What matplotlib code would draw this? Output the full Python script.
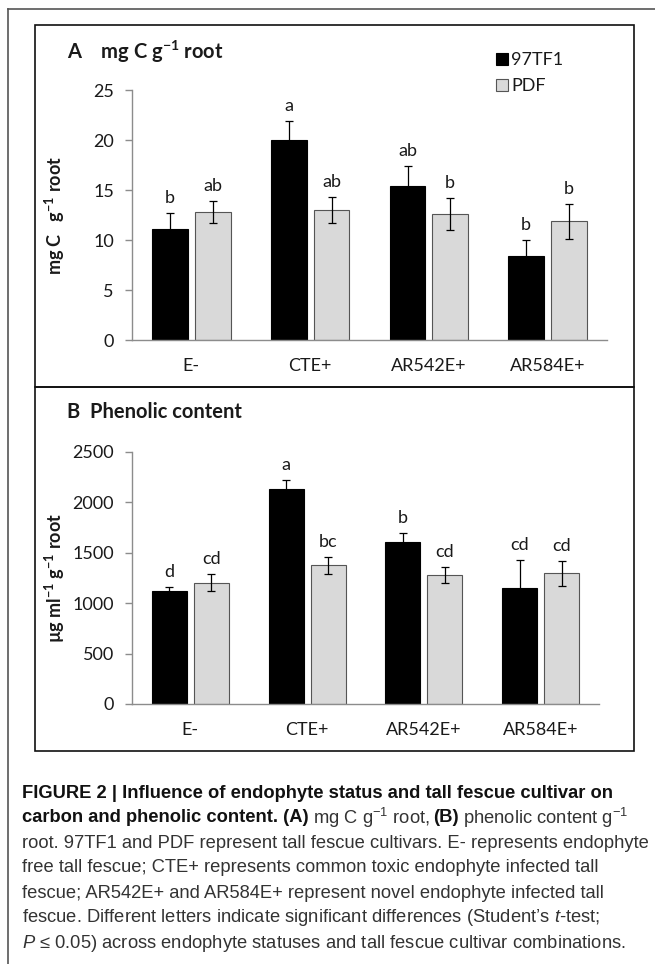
import matplotlib
matplotlib.use("Agg")
import matplotlib.pyplot as plt
from matplotlib.lines import Line2D
from matplotlib.patches import Rectangle
import numpy as np

# ---------------- data ----------------
categories = ["E-", "CTE+", "AR542E+", "AR584E+"]
cultivars = ["97TF1", "PDF"]

carbon_97tf1 = [11.1, 20.0, 15.4, 8.4]
carbon_97tf1_err = [1.6, 1.9, 2.0, 1.6]
carbon_pdf = [12.8, 13.0, 12.6, 11.9]
carbon_pdf_err = [1.1, 1.3, 1.6, 1.75]
carbon_letters_97tf1 = ["b", "a", "ab", "b"]
carbon_letters_pdf = ["ab", "ab", "b", "b"]

phenol_97tf1 = [1120, 2130, 1606, 1153]
phenol_97tf1_err = [45, 95, 92, 274]
phenol_pdf = [1205, 1376, 1280, 1295]
phenol_pdf_err = [80, 84, 81, 125]
phenol_letters_97tf1 = ["d", "a", "b", "cd"]
phenol_letters_pdf = ["cd", "bc", "cd", "cd"]

carbon_ticks = [0, 5, 10, 15, 20, 25]
phenol_ticks = [0, 500, 1000, 1500, 2000, 2500]

# ---------------- style ----------------
W, H = 655, 964
plt.rcParams["font.family"] = ["Lato", "DejaVu Sans"]
plt.rcParams["mathtext.fontset"] = "custom"
plt.rcParams["mathtext.rm"] = "Liberation Sans"
plt.rcParams["mathtext.it"] = "Liberation Sans:italic"
plt.rcParams["mathtext.bf"] = "Lato:bold"

BLACK = "#000000"
GREY = "#d9d9d9"
AXIS = "#8c8c8c"
TXT = "#1a1a1a"
FS = 13

fig = plt.figure(figsize=(W / 100, H / 100), dpi=100)


def fx(px):
    return px / W


def fy(py):
    return 1 - py / H


def panel(rect, v1, e1, v2, e2, l1, l2, ticks, ylabel, letter_off):
    left, top, right, bottom = rect
    ax = fig.add_axes([fx(left), fy(bottom), fx(right - left), (bottom - top) / H])
    x = np.arange(len(categories))
    w, off = 0.30, 0.18
    ax.bar(x - off, v1, w, color=BLACK, edgecolor=BLACK, linewidth=0.8, zorder=2)
    ax.bar(x + off, v2, w, color=GREY, edgecolor="#555555", linewidth=0.8, zorder=2)
    ax.errorbar(x - off, v1, yerr=e1, fmt="none", ecolor=BLACK, elinewidth=0.9,
                capsize=2.6, capthick=0.9, zorder=3)
    ax.errorbar(x + off, v2, yerr=e2, fmt="none", ecolor=BLACK, elinewidth=0.9,
                capsize=2.6, capthick=0.9, zorder=3)
    for xi, v, e, s in zip(x - off, v1, e1, l1):
        ax.text(xi, v + e + letter_off, s, ha="center", va="bottom", fontsize=FS,
                color=TXT)
    for xi, v, e, s in zip(x + off, v2, e2, l2):
        ax.text(xi, v + e + letter_off, s, ha="center", va="bottom", fontsize=FS,
                color=TXT)
    ax.set_xlim(-0.5, len(categories) - 0.5)
    ax.set_ylim(ticks[0], ticks[-1])
    ax.set_yticks(ticks)
    ax.set_xticks(x)
    ax.set_xticklabels(categories)
    for s in ("top", "right"):
        ax.spines[s].set_visible(False)
    for s in ("left", "bottom"):
        ax.spines[s].set_color(AXIS)
        ax.spines[s].set_linewidth(1.0)
    ax.tick_params(axis="y", length=5, width=1.0, color=AXIS, pad=8,
                   labelsize=FS, labelcolor=TXT)
    ax.tick_params(axis="x", length=0, pad=13, labelsize=FS, labelcolor=TXT)
    ax.set_facecolor("none")
    ax.set_ylabel(ylabel, fontsize=13, fontweight="bold", color=TXT)
    ax.yaxis.set_label_coords((67 - left) / (right - left), 0.5)
    return ax


# panel frames and outer page edge
fig.add_artist(Line2D([fx(8), fx(8)], [fy(9), fy(964)], color="#555555", lw=1.2))
fig.add_artist(Line2D([fx(8), fx(655)], [fy(9), fy(9)], color="#555555", lw=1.2))
fig.add_artist(Rectangle((fx(35), fy(387)), fx(634 - 35), (387 - 25) / H,
                         fill=False, edgecolor="#111111", lw=1.2))
fig.add_artist(Rectangle((fx(35), fy(751)), fx(634 - 35), (751 - 387) / H,
                         fill=False, edgecolor="#111111", lw=1.2))

axA = panel((132, 90, 607, 340), carbon_97tf1, carbon_97tf1_err, carbon_pdf,
            carbon_pdf_err, carbon_letters_97tf1, carbon_letters_pdf,
            carbon_ticks, r"mg C   g$^{\mathbf{-1}}$ root", 0.7)
axB = panel((132, 452, 599, 704), phenol_97tf1, phenol_97tf1_err, phenol_pdf,
            phenol_pdf_err, phenol_letters_97tf1, phenol_letters_pdf,
            phenol_ticks, r"µg ml$^{\mathbf{-1}}$ g$^{\mathbf{-1}}$ root", 70)

# panel titles
fig.text(fx(67), fy(52), r"A    mg C g$^{\mathbf{-1}}$ root", fontsize=14.5,
         fontweight="bold", color=TXT, va="center", ha="left")
fig.text(fx(67), fy(412), "B  Phenolic content", fontsize=14.5,
         fontweight="bold", color=TXT, va="center", ha="left")

# legend
handles = [Rectangle((0, 0), 1, 1, facecolor=BLACK, edgecolor=BLACK, lw=0.8),
           Rectangle((0, 0), 1, 1, facecolor=GREY, edgecolor="#555555", lw=0.8)]
fig.legend(handles, cultivars, loc="upper left",
           bbox_to_anchor=(fx(487), fy(43)), frameon=False, fontsize=13,
           handlelength=0.65, handleheight=0.65, handletextpad=0.2,
           labelspacing=0.55, borderpad=0, labelcolor=TXT)

# caption
fig.canvas.draw()
renderer = fig.canvas.get_renderer()
CAP = dict(family=["Liberation Sans", "DejaVu Sans"], fontsize=13.2, va="center",
           ha="left")
BOLD = dict(CAP, fontweight="bold", color="#111111")
REG = dict(CAP, color="#333333")


def line_runs(y, pieces, x0=22):
    x = x0
    for text, props, gap in pieces:
        t = fig.text(x / W, fy(y), text, **props)
        bb = t.get_window_extent(renderer)
        x = bb.x1 + gap


sp = 4.0
cap_y = [793, 818, 843, 868, 893, 918, 943]
fig.text(fx(22), fy(cap_y[0]),
         "FIGURE 2 | Influence of endophyte status and tall fescue cultivar on",
         **BOLD)
line_runs(cap_y[1], [
    ("carbon and phenolic content. (A)", BOLD, sp),
    (r"mg C g$^{-1}$ root,", REG, sp),
    ("(B)", BOLD, sp),
    (r"phenolic content g$^{-1}$", REG, 0),
])
fig.text(fx(22), fy(cap_y[2]),
         "root. 97TF1 and PDF represent tall fescue cultivars. E- represents endophyte",
         **REG)
fig.text(fx(22), fy(cap_y[3]),
         "free tall fescue; CTE+ represents common toxic endophyte infected tall",
         **REG)
fig.text(fx(22), fy(cap_y[4]),
         "fescue; AR542E+ and AR584E+ represent novel endophyte infected tall",
         **REG)
fig.text(fx(22), fy(cap_y[5]),
         r"fescue. Different letters indicate significant differences (Student’s $\mathit{t}$-test;",
         **REG)
fig.text(fx(22), fy(cap_y[6]),
         r"$\mathit{P}$ ≤ 0.05) across endophyte statuses and tall fescue cultivar combinations.",
         **REG)

fig.savefig("out.png", dpi=100)
